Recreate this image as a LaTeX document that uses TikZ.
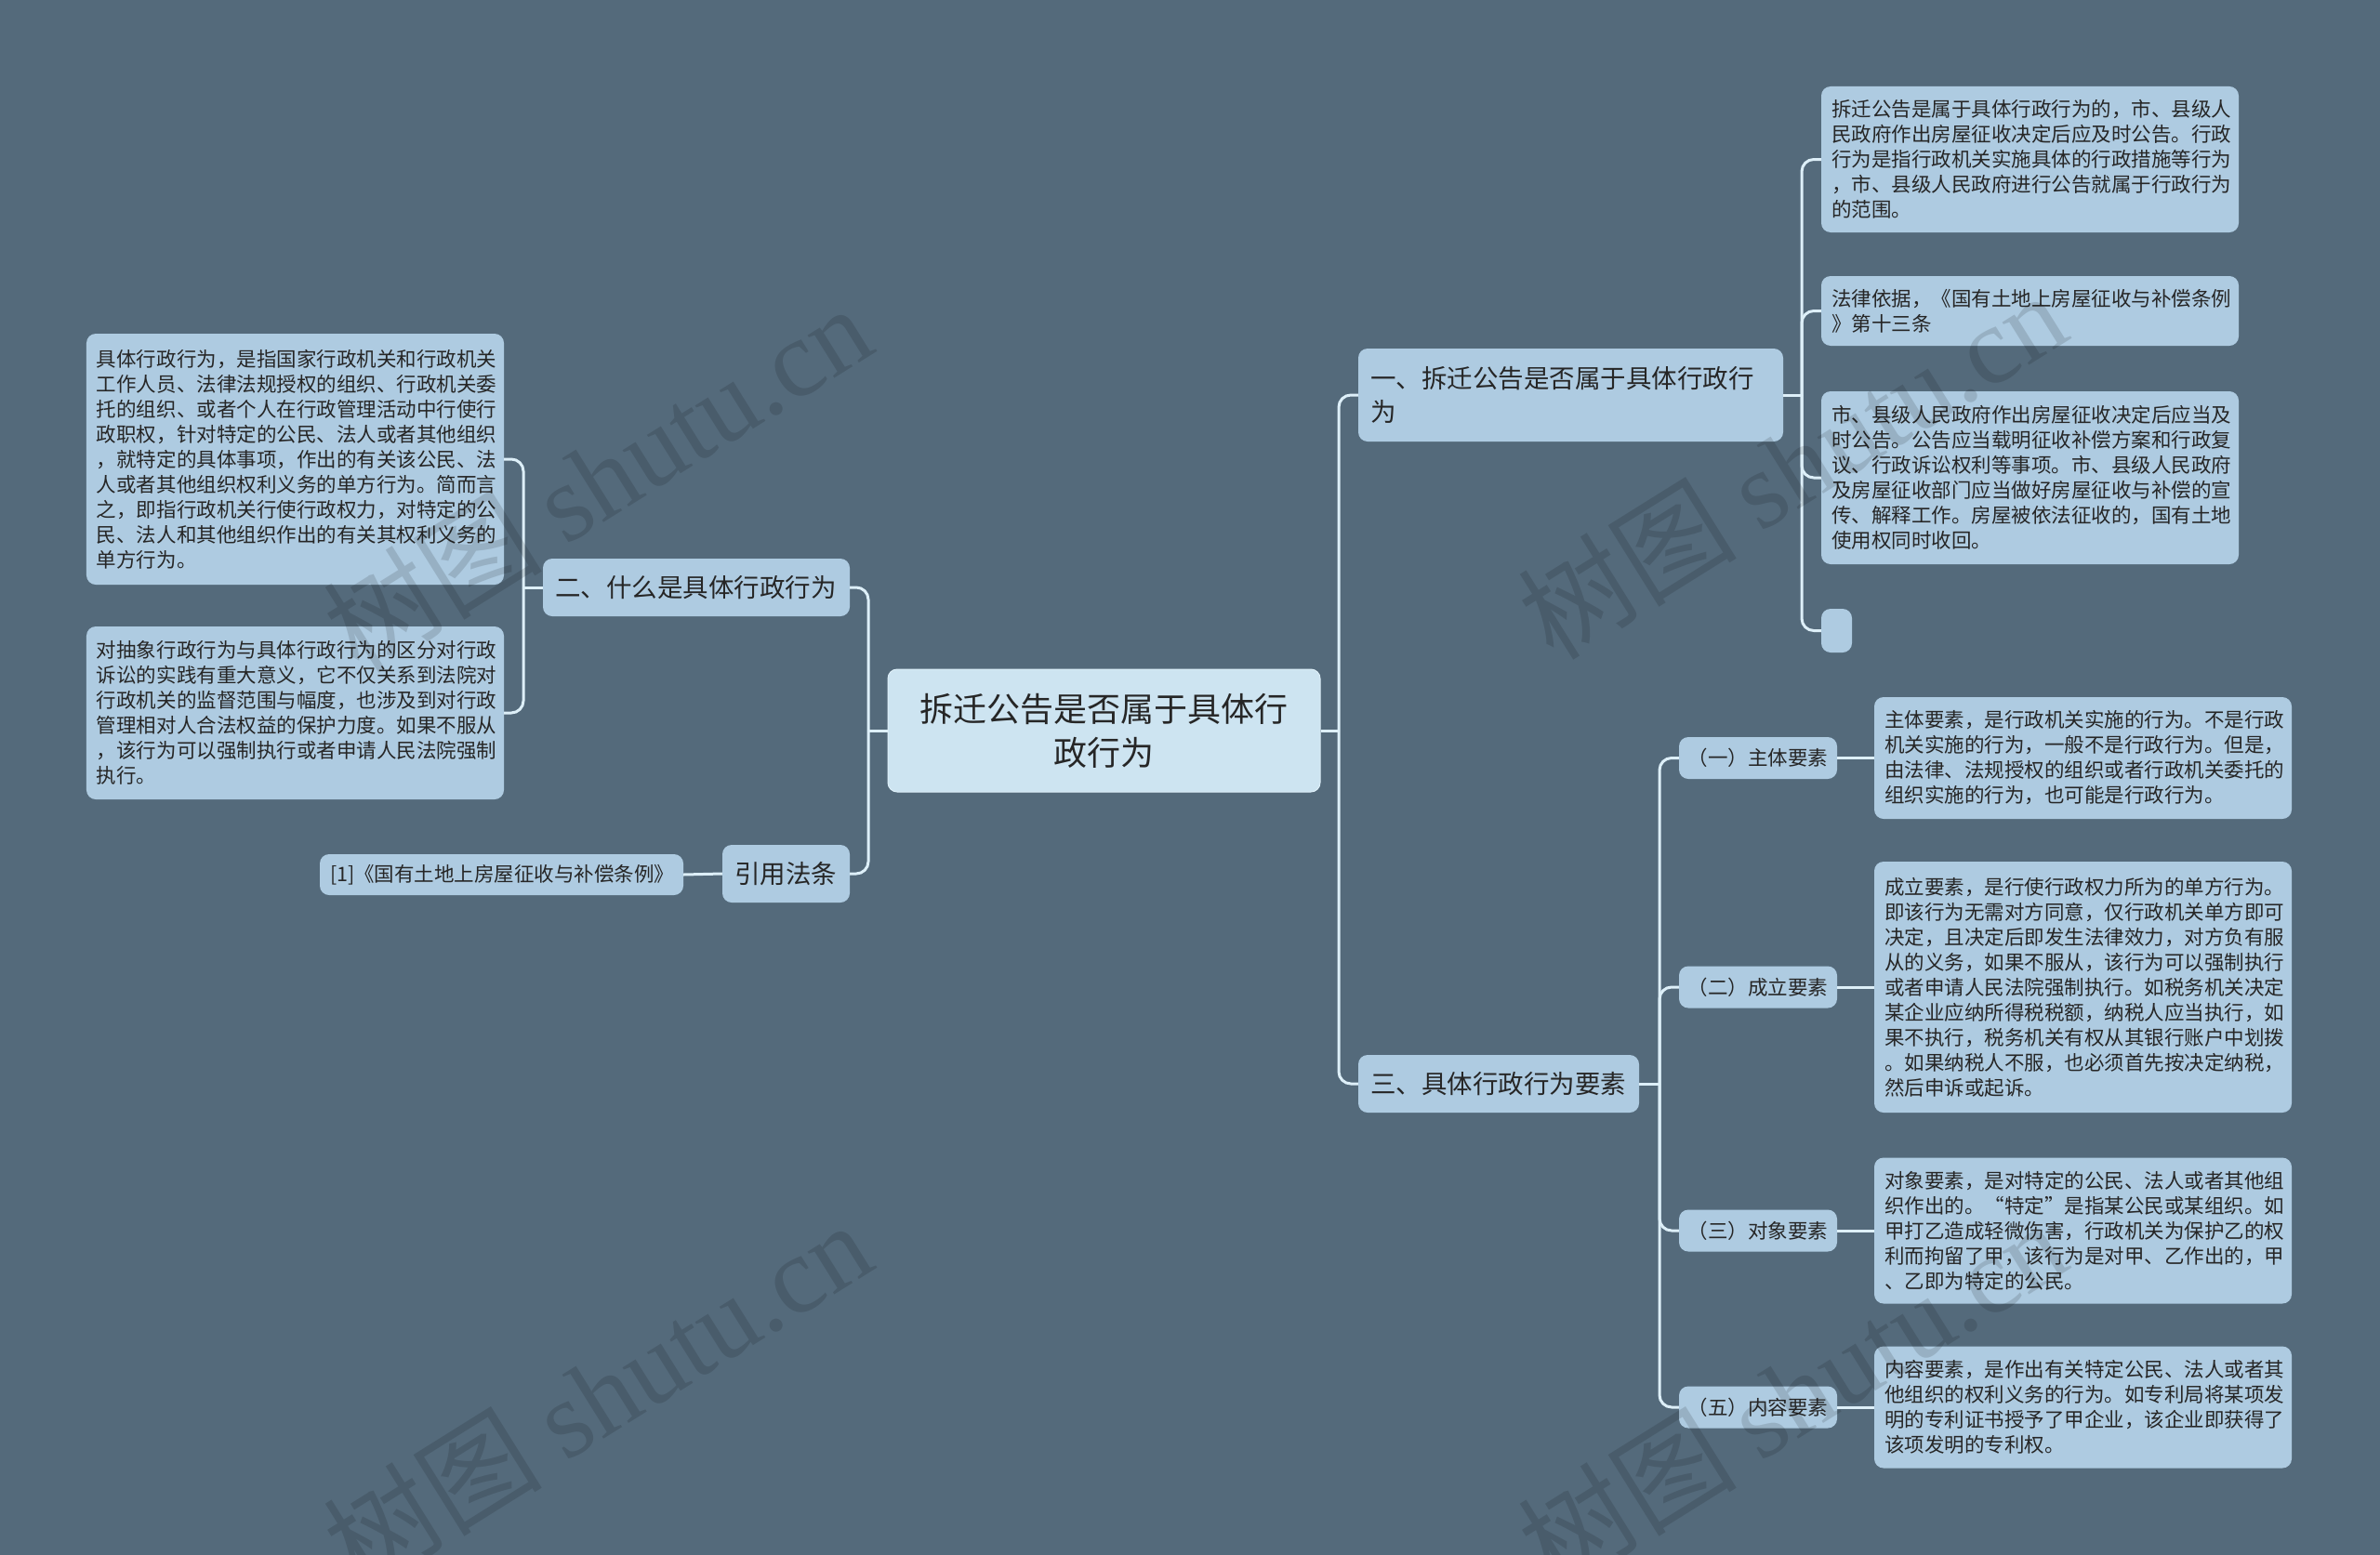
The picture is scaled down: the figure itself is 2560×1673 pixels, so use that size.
\documentclass[tikz,border=0pt]{standalone}
\usepackage{fontspec}
\setmainfont{Noto Sans CJK SC}
\newfontfamily\wmlatin{Liberation Serif}
\definecolor{bgcol}{HTML}{546A7B}
\definecolor{nodefill}{HTML}{AECBE1}
\definecolor{rootfill}{HTML}{CDE4F1}
\definecolor{linecol}{HTML}{DDEFF8}
\definecolor{txt}{HTML}{262626}
\tikzset{
  box/.style={rounded corners=10bp, fill=nodefill, text=txt, inner xsep=11bp, inner ysep=0bp, align=left, anchor=center},
  leaf/.style={box, font=\fontsize{21.5bp}{27bp}\selectfont},
  midnode/.style={box, inner xsep=13bp, font=\fontsize{27.5bp}{36bp}\selectfont},
  smallnode/.style={box, align=center, inner xsep=9bp, font=\fontsize{21.5bp}{27bp}\selectfont},
  rootnode/.style={box, fill=rootfill, draw=linecol, line width=1bp, align=center, font=\fontsize{36bp}{47bp}\selectfont},
  conn/.style={draw=linecol, line width=3bp, rounded corners=13bp},
  wm/.style={text=black, text opacity=0.13, font=\fontsize{118bp}{130bp}\selectfont, rotate=32}
}
\begin{document}
\begin{tikzpicture}[x=1bp,y=-1bp]
\useasboundingbox (0,0) rectangle (2560,1673);
\fill[bgcol] (0,0) rectangle (2560,1673);

% root
\node[rootnode, text width=443bp, minimum height=132bp] (root) at (1187.5,786) {拆迁公告是否属于具体行\\政行为};

% right main branches
\node[midnode, text width=431bp, minimum height=100bp] (n1) at (1689.5,425) {一、拆迁公告是否属于具体行政行\\为};
\node[midnode, text width=276bp, minimum height=62bp] (n3) at (1612,1166) {三、具体行政行为要素};

% left main branches
\node[midnode, text width=304bp, minimum height=62bp] (n2) at (749,632) {二、什么是具体行政行为};
\node[midnode, text width=111bp, minimum height=62bp] (ref) at (845.5,940) {引用法条};

% leaves of n1
\node[leaf, text width=427bp, minimum height=157bp] (r1) at (2183.5,171.5) {拆迁公告是属于具体行政行为的，市、县级人\\民政府作出房屋征收决定后应及时公告。行政\\行为是指行政机关实施具体的行政措施等行为\\，市、县级人民政府进行公告就属于行政行为\\的范围。};
\node[leaf, text width=427bp, minimum height=75bp] (r2) at (2183.5,334.5) {法律依据，《国有土地上房屋征收与补偿条例\\》第十三条};
\node[leaf, text width=427bp, minimum height=186bp] (r3) at (2183.5,514) {市、县级人民政府作出房屋征收决定后应当及\\时公告。公告应当载明征收补偿方案和行政复\\议、行政诉讼权利等事项。市、县级人民政府\\及房屋征收部门应当做好房屋征收与补偿的宣\\传、解释工作。房屋被依法征收的，国有土地\\使用权同时收回。};
\node[box, inner sep=0bp, minimum width=33bp, minimum height=47bp] (r4) at (1975.5,678.5) {};

% sub nodes of n3
\node[smallnode, text width=152bp, minimum height=45bp] (s1) at (1891,815.5) {（一）主体要素};
\node[smallnode, text width=152bp, minimum height=45bp] (s2) at (1891,1062) {（二）成立要素};
\node[smallnode, text width=152bp, minimum height=45bp] (s3) at (1891,1324) {（三）对象要素};
\node[smallnode, text width=152bp, minimum height=45bp] (s5) at (1891,1514) {（五）内容要素};

% leaves of sub nodes
\node[leaf, text width=427bp, minimum height=131bp] (t1) at (2240.5,815.5) {主体要素，是行政机关实施的行为。不是行政\\机关实施的行为，一般不是行政行为。但是，\\由法律、法规授权的组织或者行政机关委托的\\组织实施的行为，也可能是行政行为。};
\node[leaf, text width=427bp, minimum height=270bp] (t2) at (2240.5,1062) {成立要素，是行使行政权力所为的单方行为。\\即该行为无需对方同意，仅行政机关单方即可\\决定，且决定后即发生法律效力，对方负有服\\从的义务，如果不服从，该行为可以强制执行\\或者申请人民法院强制执行。如税务机关决定\\某企业应纳所得税税额，纳税人应当执行，如\\果不执行，税务机关有权从其银行账户中划拨\\。如果纳税人不服，也必须首先按决定纳税，\\然后申诉或起诉。};
\node[leaf, text width=427bp, minimum height=157bp] (t3) at (2240.5,1324) {对象要素，是对特定的公民、法人或者其他组\\织作出的。“特定”是指某公民或某组织。如\\甲打乙造成轻微伤害，行政机关为保护乙的权\\利而拘留了甲，该行为是对甲、乙作出的，甲\\、乙即为特定的公民。};
\node[leaf, text width=427bp, minimum height=131bp] (t5) at (2240.5,1514) {内容要素，是作出有关特定公民、法人或者其\\他组织的权利义务的行为。如专利局将某项发\\明的专利证书授予了甲企业，该企业即获得了\\该项发明的专利权。};

% leaves of n2
\node[leaf, text width=427bp, minimum height=270bp] (l1) at (317.5,494) {具体行政行为，是指国家行政机关和行政机关\\工作人员、法律法规授权的组织、行政机关委\\托的组织、或者个人在行政管理活动中行使行\\政职权，针对特定的公民、法人或者其他组织\\，就特定的具体事项，作出的有关该公民、法\\人或者其他组织权利义务的单方行为。简而言\\之，即指行政机关行使行政权力，对特定的公\\民、法人和其他组织作出的有关其权利义务的\\单方行为。};
\node[leaf, text width=427bp, minimum height=186bp] (l2) at (317.5,767) {对抽象行政行为与具体行政行为的区分对行政\\诉讼的实践有重大意义，它不仅关系到法院对\\行政机关的监督范围与幅度，也涉及到对行政\\管理相对人合法权益的保护力度。如果不服从\\，该行为可以强制执行或者申请人民法院强制\\执行。};

% leaf of ref
\node[leaf, text width=369bp, minimum height=44bp] (c1) at (539.5,941) {[1]《国有土地上房屋征收与补偿条例》};

% junction coordinates
\coordinate (jR) at (1440,786);
\coordinate (jL) at (934,786);
\coordinate (j1) at (1938,425);
\coordinate (j3) at (1785,1166);
\coordinate (j2) at (563,632);

% connectors
\draw[conn] (root.east) -- (jR);
\draw[conn] (jR) |- (n1.west);
\draw[conn] (jR) |- (n3.west);
\draw[conn] (root.west) -- (jL);
\draw[conn] (jL) |- (n2.east);
\draw[conn] (jL) |- (ref.east);

\draw[conn] (n1.east) -- (j1);
\draw[conn] (j1) |- (r1.west);
\draw[conn] (j1) |- (r2.west);
\draw[conn] (j1) |- (r3.west);
\draw[conn] (j1) |- (r4.west);

\draw[conn] (n3.east) -- (j3);
\draw[conn] (j3) |- (s1.west);
\draw[conn] (j3) |- (s2.west);
\draw[conn] (j3) |- (s3.west);
\draw[conn] (j3) |- (s5.west);

\draw[conn] (s1.east) -- (t1.west);
\draw[conn] (s2.east) -- (t2.west);
\draw[conn] (s3.east) -- (t3.west);
\draw[conn] (s5.east) -- (t5.west);

\draw[conn] (n2.west) -- (j2);
\draw[conn] (j2) |- (l1.east);
\draw[conn] (j2) |- (l2.east);

\draw[conn] (ref.west) -- (c1.east);

% watermarks
\node[wm] (w1) at (642,514) {树图 {\wmlatin shutu.cn}};
\node[wm] (w2) at (1927,500) {树图 {\wmlatin shutu.cn}};
\node[wm] (w3) at (642,1500) {树图 {\wmlatin shutu.cn}};
\node[wm] (w4) at (1927,1500) {树图 {\wmlatin shutu.cn}};
\end{tikzpicture}
\end{document}
